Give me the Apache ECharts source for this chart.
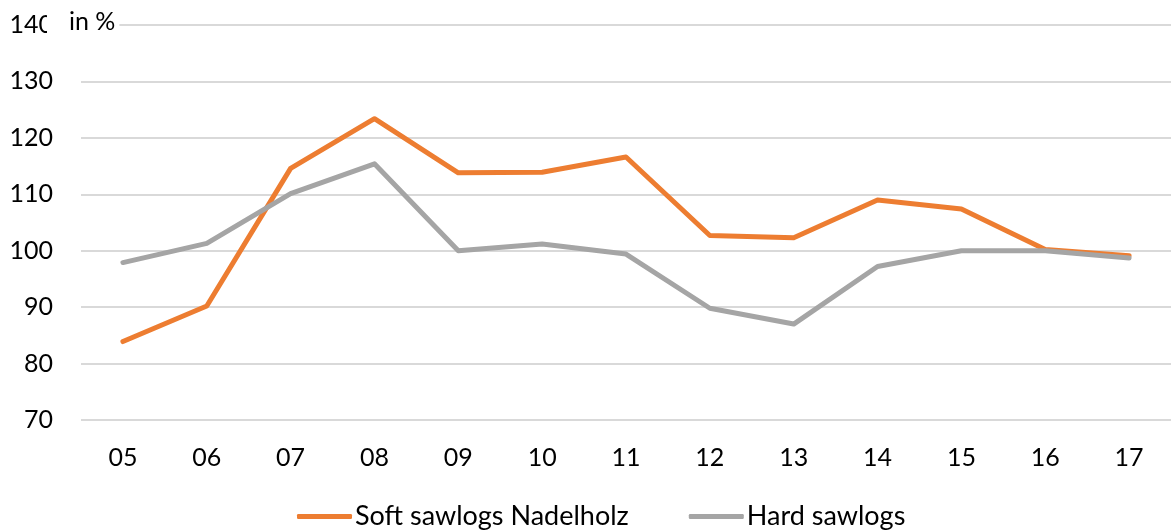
<!DOCTYPE html>
<html>
<head>
<meta charset="utf-8">
<script src="https://cdn.jsdelivr.net/npm/echarts@6/dist/echarts.min.js"></script>
<style>
  html, body { margin: 0; padding: 0; background: #fff; }
  #chart { width: 1171px; height: 532px; }
</style>
</head>
<body>
<div id="chart"></div>
<script>
  // years (2005 - 2017)
  const years = ['05', '06', '07', '08', '09', '10', '11', '12', '13', '14', '15', '16', '17'];
  const softSawlogs = [83.9, 90.2, 114.6, 123.4, 113.8, 113.9, 116.6, 102.7, 102.3, 109.0, 107.4, 100.2, 99.1];
  const hardSawlogs = [97.9, 101.3, 110.1, 115.4, 100.0, 101.2, 99.4, 89.8, 87.0, 97.2, 100.0, 100.0, 98.7];
  const seriesNames = ['Soft sawlogs Nadelholz', 'Hard sawlogs'];

  const font = 'Lato, "Open Sans", sans-serif';
  let myChart = echarts.init(document.getElementById('chart'));

  let option = {
    animation: false,
    title: {
      text: 'in %',
      left: 47,
      top: 7,
      padding: [2, 4, 2, 22],
      backgroundColor: '#fff',
      textStyle: { fontFamily: font, fontSize: 25, fontWeight: 'normal', color: '#000' }
    },
    legend: {
      bottom: 2,
      left: 297,
      padding: 0,
      itemWidth: 55,
      itemHeight: 5,
      itemGap: 60,
      textStyle: { fontFamily: font, fontSize: 27, color: '#000', padding: [0, 0, 0, -2] },
      data: seriesNames.map(n => ({ name: n, icon: 'roundRect' }))
    },
    grid: { left: 81, right: -3, top: 25, bottom: 112 },
    xAxis: {
      type: 'category',
      data: years,
      boundaryGap: true,
      axisLine: { show: false },
      axisTick: { show: false },
      axisLabel: { fontFamily: font, fontSize: 25, color: '#000', margin: 25 }
    },
    yAxis: {
      type: 'value',
      min: 70,
      max: 140,
      interval: 10,
      axisLine: { show: false },
      axisTick: { show: false },
      splitLine: { lineStyle: { color: '#d9d9d9', width: 2 } },
      axisLabel: { fontFamily: font, fontSize: 25, color: '#000', margin: 28 }
    },
    series: [
      {
        name: seriesNames[0],
        type: 'line',
        data: softSawlogs,
        symbol: 'none',
        itemStyle: { color: '#ED7D31' },
        lineStyle: { color: '#ED7D31', width: 5, cap: 'round', join: 'round' }
      },
      {
        name: seriesNames[1],
        type: 'line',
        data: hardSawlogs,
        symbol: 'none',
        itemStyle: { color: '#A5A5A5' },
        lineStyle: { color: '#A5A5A5', width: 5, cap: 'round', join: 'round' }
      }
    ]
  };

  myChart.setOption(option);
</script>
</body>
</html>
